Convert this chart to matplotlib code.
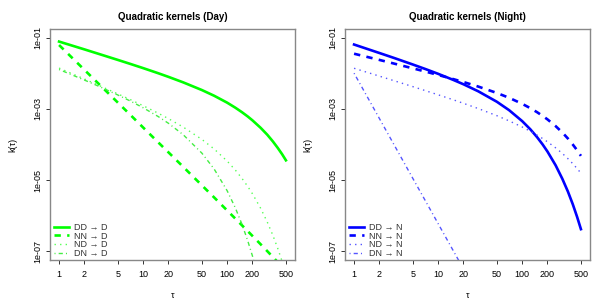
import matplotlib
matplotlib.use("Agg")
import matplotlib.pyplot as plt

plt.rcParams['font.family'] = ['Liberation Sans', 'DejaVu Sans']

# lag grid (tau)
tau = [1, 2, 3, 5, 7, 10, 15, 20, 30, 50, 70, 100, 125, 150, 175, 200, 250, 300, 350, 400, 450, 500]

# Day kernels
day_DD = [0.0771, 0.0466, 0.0345, 0.0236, 0.0183, 0.0139, 0.01005, 0.0079, 0.00553, 0.00337,
          0.00233, 0.00149, 0.001078, 0.000805, 0.000615, 0.000475, 0.000294, 0.000188, 0.0001216,
          8.0e-5, 5.36e-5, 3.6e-5]
day_NN = [0.0617, 0.01245, 0.00488, 0.0015, 0.000689, 0.0003, 0.000117, 6.04e-5, 2.36e-5, 7.16e-6,
          3.27e-6, 1.41e-6, 8.34e-7, 5.41e-7, 3.75e-7, 2.72e-7, 1.59e-7, 1.02e-7, 6.97e-8,
          5.0e-8, 3.73e-8, 2.85e-8]
day_ND = [0.01393, 0.00687, 0.00451, 0.00263, 0.00183, 0.001225, 0.000762, 0.000532, 0.000308, 0.000139,
          7.48e-5, 3.42e-5, 1.92e-5, 1.12e-5, 6.75e-6, 4.14e-6, 1.63e-6, 6.68e-7, 2.82e-7,
          1.21e-7, 5.31e-8, 2.35e-8]
day_DN = [0.0127, 0.00643, 0.00425, 0.00245, 0.00167, 0.001074, 0.000615, 0.000394, 0.000188, 5.73e-5,
          2.05e-5, 5.04e-6, 1.67e-6, 5.79e-7, 2.05e-7, 7.43e-8, 1.01e-8, 1.4e-9, 2.1e-10,
          3.1e-11, 4.7e-12, 7.1e-13]

# Night kernels
night_DD = [0.0637, 0.0369, 0.0267, 0.01754, 0.01318, 0.00961, 0.00655, 0.0049, 0.00311, 0.00158,
            0.000916, 0.000453, 0.000267, 0.000162, 0.0001005, 6.34e-5, 2.61e-5, 1.1e-5, 4.79e-6,
            2.11e-6, 9.37e-7, 4.22e-7]
night_NN = [0.0352, 0.0236, 0.01858, 0.0137, 0.01117, 0.00894, 0.00687, 0.00566, 0.00422, 0.00279,
            0.00204, 0.001384, 0.001045, 0.000809, 0.000635, 0.000506, 0.000328, 0.000218, 0.000147,
            0.0001, 6.92e-5, 4.8e-5]
night_ND = [0.01374, 0.00828, 0.00614, 0.0042, 0.00326, 0.00248, 0.00181, 0.00143, 0.00102, 0.000643,
            0.000459, 0.00031, 0.000235, 0.000184, 0.000147, 0.000119, 8.06e-5, 5.64e-5, 4.01e-5,
            2.9e-5, 2.12e-5, 1.57e-5]
tau_night_DN = [1, 2, 3, 5, 7, 10, 15, 20, 30]
night_DN = [0.01, 0.000537, 9.7e-5, 1.12e-5, 2.72e-6, 6.03e-7, 1.09e-7, 3.24e-8, 5.85e-9]

xticks = [1, 2, 5, 10, 20, 50, 100, 200, 500]
xticklabels = ["1", "2", "5", "10", "20", "50", "100", "200", "500"]
yticks = [1e-1, 1e-3, 1e-5, 1e-7]
yticklabels = ["1e-01", "1e-03", "1e-05", "1e-07"]

titles = ["Quadratic kernels (Day)", "Quadratic kernels (Night)"]
labels_day = ["DD \u2192 D", "NN \u2192 D", "ND \u2192 D", "DN \u2192 D"]
labels_night = ["DD \u2192 N", "NN \u2192 N", "ND \u2192 N", "DN \u2192 N"]

fig = plt.figure(figsize=(6, 3), dpi=100)
W, H = 600, 300
boxes = [(50, 29, 295, 260), (345, 29, 590, 260)]

styles = [
    dict(lw=1.9, ls='-'),
    dict(lw=1.9, ls=(0, (2.4, 2.4))),
    dict(lw=1.0, ls=(0, (1, 3))),
    dict(lw=1.0, ls=(0, (0.75, 2.25, 3, 2.25))),
]

panels = [
    (titles[0], [(tau, day_DD), (tau, day_NN), (tau, day_ND), (tau, day_DN)],
     ['#00ff00', '#00ff00', '#55ff55', '#44ee44'], labels_day),
    (titles[1], [(tau, night_DD), (tau, night_NN), (tau, night_ND), (tau_night_DN, night_DN)],
     ['#0000ff', '#0000ff', '#5555ff', '#5555ff'], labels_night),
]

for (x0, y0, x1, y1), (title, series, colors, labels) in zip(boxes, panels):
    ax = fig.add_axes([x0 / W, 1 - y1 / H, (x1 - x0) / W, (y1 - y0) / H])
    handles = []
    for (tx, ty), c, st, lab in zip(series, colors, styles, labels):
        h, = ax.plot(tx, ty, color=c, linewidth=st['lw'], linestyle=st['ls'], label=lab)
        handles.append(h)
    ax.set_xscale('log')
    ax.set_yscale('log')
    ax.set_xlim(10 ** -0.108, 10 ** 2.807)
    ax.set_ylim(10 ** -7.24, 10 ** -0.76)
    ax.minorticks_off()
    ax.set_xticks(xticks)
    ax.set_xticklabels(xticklabels, fontsize=6.5)
    ax.set_yticks(yticks)
    ax.set_yticklabels(yticklabels, fontsize=6.5, rotation=90, va='center')
    ax.tick_params(axis='both', direction='out', length=3.2, width=0.7, color='#333333', pad=4)
    ax.tick_params(axis='y', pad=2.5)
    for s in ax.spines.values():
        s.set_color('#888888')
        s.set_linewidth(1.0)
    cx = (x0 + x1) / 2 / W
    fig.text(cx, 1 - 17 / H, title, ha='center', va='center', fontsize=7, fontweight='bold')
    fig.text(cx, 1 - 295 / H, "\u03c4", ha='center', va='center', fontsize=6.5)
    fig.text((x0 - 37) / W, 1 - 144.5 / H, "k(\u03c4)", ha='center', va='center', fontsize=6.5, rotation=90)
    leg = ax.legend(handles=handles, loc='lower left', bbox_to_anchor=(0.015, 0.01),
                    frameon=False, fontsize=6.5, borderpad=0, borderaxespad=0,
                    handlelength=1.75, handletextpad=0.55, labelspacing=-0.05)
    for t in leg.get_texts():
        t.set_color('#333333')

fig.savefig("out.png", dpi=100)
